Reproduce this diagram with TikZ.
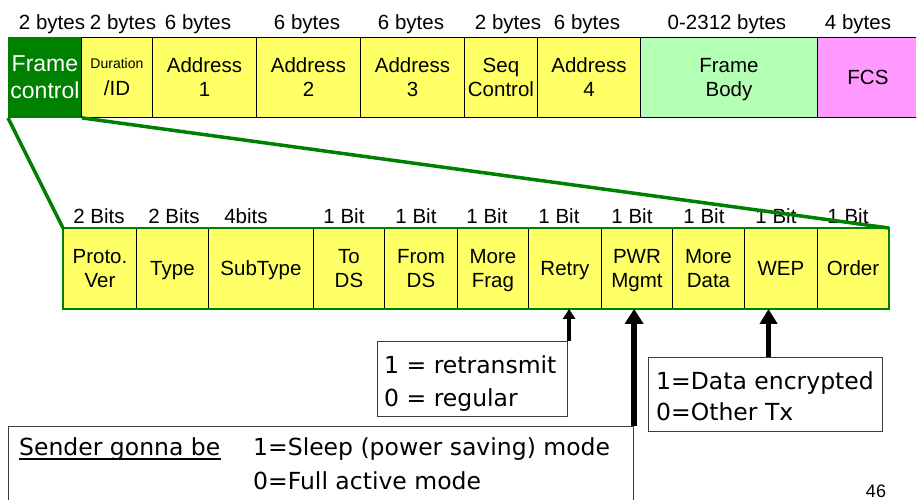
\documentclass[tikz,border=0pt]{standalone}
\usepackage{fontspec}
\setmainfont{Liberation Sans}
\newfontfamily\notefont{DejaVu Sans}
\usetikzlibrary{arrows.meta}
\definecolor{cellyellow}{RGB}{255,255,102}
\definecolor{fcgreen}{RGB}{0,128,0}
\definecolor{bodygreen}{RGB}{179,255,179}
\definecolor{fcspink}{RGB}{255,153,255}
\definecolor{boxgray}{RGB}{60,60,60}
% a line whose descenders do not count when the cell text is centred
\newcommand\nodepth[1]{\raisebox{0pt}[\height][0pt]{#1}}

\begin{document}
\begin{tikzpicture}[x=1pt,y=-1pt,
  field/.style={draw=black, line width=0.9pt, fill=cellyellow, inner sep=0pt,
    minimum height=80pt, anchor=north west, align=center,
    font=\fontsize{20.5}{24}\selectfont},
  sizelabel/.style={anchor=base, inner sep=0pt, font=\fontsize{20.5}{24}\selectfont},
  zoomline/.style={draw=fcgreen, line width=3.5pt},
  notebox/.style={draw=boxgray, line width=1.1pt, fill=white, inner sep=0pt, anchor=north west},
  notetext/.style={anchor=base west, inner sep=0pt, font=\notefont\fontsize{23.5}{28}\selectfont},
  smallarrow/.style={draw=black, line width=4pt, -{Triangle[length=10pt,width=12pt]}},
  bigarrow/.style={draw=black, line width=6.5pt, -{Triangle[length=15pt,width=18pt]}},
  midarrow/.style={draw=black, line width=5.5pt, -{Triangle[length=15pt,width=17pt]}}
]
\useasboundingbox (0,0) rectangle (916,500);

% ---- MAC frame fields ----
\node[field, minimum width=73pt, fill=fcgreen, draw=fcgreen, text=white,
  font=\fontsize{23}{27}\selectfont] (fc) at (8,37) {Frame\\control};
\node[field, minimum width=71pt] (dur) at (81,37)
  {{\fontsize{14}{16}\selectfont Duration}\\[3pt]/ID};
\node[field, minimum width=104pt] (a1) at (152,37) {Address\\1};
\node[field, minimum width=104pt] (a2) at (256,37) {Address\\2};
\node[field, minimum width=104pt] (a3) at (360,37) {Address\\3};
\node[field, minimum width=73pt] (seq) at (464,37) {Seq\\Control};
\node[field, minimum width=103pt] (a4) at (537,37) {Address\\4};
\node[field, minimum width=177pt, fill=bodygreen] (body) at (640,37) {Frame\\\nodepth{Body}};
\node[field, minimum width=101pt, fill=fcspink] (fcs) at (817,37) {FCS};

% field sizes
\node[sizelabel] (s1) at (52,30) {2 bytes};
\node[sizelabel] (s2) at (123,30) {2 bytes};
\node[sizelabel] (s3) at (198,30) {6 bytes};
\node[sizelabel] (s4) at (307,30) {6 bytes};
\node[sizelabel] (s5) at (411,30) {6 bytes};
\node[sizelabel] (s6) at (508,30) {2 bytes};
\node[sizelabel] (s7) at (587,30) {6 bytes};
\node[sizelabel] (s8) at (727,30) {0-2312 bytes};
\node[sizelabel] (s9) at (858,30) {4 bytes};

% ---- frame control bits ----
\node[field, minimum width=73pt] (pv) at (63,228) {Proto.\\Ver};
\node[field, minimum width=72pt] (ty) at (136,228) {\nodepth{Type}};
\node[field, minimum width=105pt] (st) at (208,228) {\nodepth{SubType}};
\node[field, minimum width=71pt] (tods) at (313,228) {To\\DS};
\node[field, minimum width=73pt] (frds) at (384,228) {From\\DS};
\node[field, minimum width=71pt] (mf) at (457,228) {More\\\nodepth{Frag}};
\node[field, minimum width=73pt] (retry) at (528,228) {\nodepth{Retry}};
\node[field, minimum width=71pt] (pwr) at (601,228) {PWR\\\nodepth{Mgmt}};
\node[field, minimum width=72pt] (md) at (672,228) {More\\Data};
\node[field, minimum width=73pt] (wep) at (744,228) {WEP};
\node[field, minimum width=71pt] (order) at (817,228) {Order};
\draw[draw=fcgreen, line width=2.5pt] (pv.north west) rectangle (order.south east);

% bit widths
\node[sizelabel] (b1) at (99,223) {2 Bits};
\node[sizelabel] (b2) at (174,223) {2 Bits};
\node[sizelabel] (b3) at (246,223) {4bits};
\node[sizelabel] (b4) at (344,223) {1 Bit};
\node[sizelabel] (b5) at (416,223) {1 Bit};
\node[sizelabel] (b6) at (487,223) {1 Bit};
\node[sizelabel] (b7) at (559,223) {1 Bit};
\node[sizelabel] (b8) at (632,223) {1 Bit};
\node[sizelabel] (b9) at (704,223) {1 Bit};
\node[sizelabel] (b10) at (776,223) {1 Bit};
\node[sizelabel] (b11) at (848,223) {1 Bit};

% expansion of the frame control field
\draw[zoomline] (fc.south west) -- (pv.north west);
\draw[zoomline] (fc.south east) -- (order.north east);

% ---- notes ----
\node[notebox, minimum width=190pt, minimum height=75pt] (retrybox) at (377,341) {};
\node[notetext] (retry1) at (384,373) {1 = retransmit};
\node[notetext] (retry2) at (384,406) {0 = regular};

\node[notebox, minimum width=234pt, minimum height=74pt] (wepbox) at (648,357) {};
\node[notetext] (wep1) at (656,389) {1=Data encrypted};
\node[notetext] (wep2) at (656,420) {0=Other Tx};

\node[notebox, minimum width=625pt, minimum height=90pt] (sendbox) at (8,426) {};
\node[notetext] (sender) at (19,455) {Sender gonna be};
\draw[line width=1.3pt] ([yshift=-4pt]sender.base west) -- ([yshift=-4pt]sender.base east);
\node[notetext] (sleep1) at (253,455) {1=Sleep (power saving) mode};
\node[notetext] (sleep0) at (253,489) {0=Full active mode};

\draw[smallarrow] ([xshift=1pt]retrybox.north east) -- ([xshift=1pt]retrybox.north east |- retry.south);
\draw[bigarrow] (sendbox.north east) -- (sendbox.north east |- pwr.south);
\draw[midarrow] ([xshift=3pt]wepbox.north) -- ([xshift=3pt]wepbox.north |- wep.south);

% page number
\node[anchor=base, inner sep=0pt, font=\fontsize{18}{20}\selectfont] (page) at (876,497) {46};
\end{tikzpicture}
\end{document}
